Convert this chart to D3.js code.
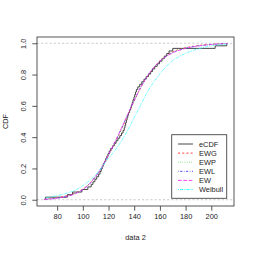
<!DOCTYPE html>
<html>
<head>
<meta charset="utf-8">
<script src="https://cdn.jsdelivr.net/npm/d3@7"></script>
<style>
  body { margin: 0; background: #fff; }
  svg { display: block; font-family: "Liberation Sans", Arial, sans-serif; }
</style>
</head>
<body>
<div id="chart"></div>
<script>
// sorted sample "data 2"
var data2 = [71, 88, 92, 99.3, 103.9, 106.5, 107.9, 109.4, 110.8, 112.3,
  113.4, 114.3, 115.1, 115.9, 116.8, 117.8, 118.7, 119.6, 120.5, 121.7,
  123.1, 124.5, 125.9, 127.3, 128.8, 130.1, 131.3, 132.2, 132.8, 133.3,
  133.9, 134.4, 135.0, 135.6, 136.4, 137.2, 137.8, 138.5, 139.1, 139.8,
  140.4, 141.0, 141.7, 142.8, 144.3, 145.9, 147.6, 149.3, 151.1, 152.8,
  154.3, 156.0, 157.9, 159.7, 161.6, 163.4, 165.3, 167.1, 170, 203, 212];

// x grid where the fitted CDFs were read
var gridX = [70, 75, 80, 85, 90, 95, 100, 105, 110, 115, 120, 125, 130, 135, 140,
  145, 150, 155, 160, 165, 170, 175, 180, 185, 190, 195, 200, 205, 210, 213];

var ewg = [0.004, 0.008, 0.013, 0.021, 0.031, 0.046, 0.068, 0.102, 0.15, 0.21,
  0.285, 0.365, 0.45, 0.54, 0.63, 0.715, 0.785, 0.842, 0.888, 0.92,
  0.945, 0.961, 0.972, 0.98, 0.986, 0.99, 0.993, 0.996, 0.998, 0.999];
var ewp = [0.003, 0.007, 0.012, 0.02, 0.03, 0.045, 0.067, 0.1, 0.148, 0.208,
  0.283, 0.364, 0.45, 0.54, 0.63, 0.714, 0.785, 0.842, 0.887, 0.919,
  0.943, 0.959, 0.97, 0.978, 0.985, 0.989, 0.992, 0.995, 0.997, 0.998];
var ewl = [0.002, 0.005, 0.01, 0.017, 0.027, 0.042, 0.065, 0.099, 0.148, 0.21,
  0.287, 0.368, 0.455, 0.545, 0.635, 0.718, 0.787, 0.843, 0.886, 0.917,
  0.94, 0.956, 0.968, 0.977, 0.983, 0.988, 0.992, 0.995, 0.997, 0.998];
var ew = [0.002, 0.005, 0.01, 0.017, 0.027, 0.042, 0.065, 0.1, 0.149, 0.211,
  0.288, 0.37, 0.457, 0.547, 0.636, 0.718, 0.787, 0.842, 0.885, 0.916,
  0.939, 0.955, 0.967, 0.976, 0.983, 0.988, 0.992, 0.995, 0.997, 0.998];
var weibull = [0.01, 0.018, 0.027, 0.036, 0.048, 0.065, 0.09, 0.12, 0.16, 0.21,
  0.265, 0.315, 0.375, 0.445, 0.525, 0.605, 0.685, 0.75, 0.805, 0.852,
  0.89, 0.915, 0.935, 0.952, 0.965, 0.975, 0.983, 0.989, 0.994, 0.996];

var xTicks = [80, 100, 120, 140, 160, 180, 200];
var yTicks = [0, 0.2, 0.4, 0.6, 0.8, 1];
var legendNames = ["eCDF", "EWG", "EWP", "EWL", "EW", "Weibull"];

var colors = ["#333333", "#ff3030", "#30d030", "#3030ff", "#ff30ff", "#30ffff"];
var dashes = [null, "2.1,2.1", "0.6,1.6", "0.6,1.6,2.1,1.6", "3.7,1.6", "1,1,3.2,1"];

var W = 253, H = 253;
var plotL = 37, plotR = 234, plotT = 37, plotB = 206;

var svg = d3.select("#chart").append("svg")
  .attr("width", W).attr("height", H);

// R style 4% extension of data range
var x = d3.scaleLinear().domain([64.32, 217.68]).range([plotL, plotR]);
var y = d3.scaleLinear().domain([-0.04, 1.04]).range([plotB, plotT]);

// grey dashed lines at 0 and 1
svg.selectAll("line.hl").data([0, 1]).enter().append("line")
  .attr("x1", plotL).attr("x2", plotR)
  .attr("y1", function (d) { return y(d); })
  .attr("y2", function (d) { return y(d); })
  .attr("stroke", "#b3b3b3").attr("stroke-width", 0.7)
  .attr("stroke-dasharray", "2.1,2.1");

// eCDF
var n = data2.length;
var steps = [{ v: data2[0], f: 0 }];
data2.forEach(function (d, i) { steps.push({ v: d, f: (i + 1) / n }); });
svg.append("path")
  .datum(steps)
  .attr("fill", "none")
  .attr("stroke", colors[0]).attr("stroke-width", 0.9)
  .attr("d", d3.line()
    .x(function (d) { return x(d.v); })
    .y(function (d) { return y(d.f); })
    .curve(d3.curveStepAfter));

// fitted curves
var fits = [ewg, ewp, ewl, ew, weibull];
var fitLine = d3.line()
  .x(function (d, i) { return x(gridX[i]); })
  .y(function (d) { return y(d); })
  .curve(d3.curveMonotoneX);
fits.forEach(function (f, k) {
  svg.append("path")
    .datum(f)
    .attr("fill", "none")
    .attr("stroke", colors[k + 1])
    .attr("stroke-width", 0.7)
    .attr("stroke-dasharray", dashes[k + 1])
    .attr("d", fitLine);
});

// box
svg.append("rect")
  .attr("x", plotL).attr("y", plotT)
  .attr("width", plotR - plotL).attr("height", plotB - plotT)
  .attr("fill", "none").attr("stroke", "#444").attr("stroke-width", 0.9);

// axes
var xAxis = svg.append("g")
  .attr("transform", "translate(0," + plotB + ")")
  .call(d3.axisBottom(x).tickValues(xTicks).tickSize(4.7).tickPadding(3.5));
var yAxis = svg.append("g")
  .attr("transform", "translate(" + plotL + ",0)")
  .call(d3.axisLeft(y).tickValues(yTicks).tickSize(4.7)
    .tickFormat(d3.format(".1f")));
[xAxis, yAxis].forEach(function (g) {
  g.select(".domain").remove();
  g.selectAll(".tick line").attr("stroke", "#444").attr("stroke-width", 0.9);
  g.selectAll("text").attr("fill", "#222")
    .style("font-family", "Liberation Sans, Arial, sans-serif")
    .style("font-size", "7.4px");
});
// y labels are rotated, as in R
yAxis.selectAll(".tick text")
  .attr("x", null)
  .attr("text-anchor", "middle")
  .attr("transform", "translate(-13.5,0) rotate(-90)")
  .attr("dy", "0.35em");

svg.append("text")
  .attr("x", (plotL + plotR) / 2).attr("y", 240)
  .attr("text-anchor", "middle")
  .attr("font-size", "7.4px").attr("fill", "#222")
  .text("data 2");
svg.append("text")
  .attr("transform", "translate(8," + ((plotT + plotB) / 2) + ") rotate(-90)")
  .attr("text-anchor", "middle")
  .attr("font-size", "7.4px").attr("fill", "#222")
  .text("CDF");

// legend
var lg = svg.append("g");
lg.append("rect")
  .attr("x", 171.7).attr("y", 134.7).attr("width", 55).attr("height", 63.6)
  .attr("fill", "#fff").attr("stroke", "#444").attr("stroke-width", 0.9);
var rows = lg.selectAll("g.row").data(legendNames).enter().append("g")
  .attr("transform", function (d, i) { return "translate(0," + (144 + i * 9.1) + ")"; });
rows.append("line")
  .attr("x1", 178).attr("x2", 193)
  .attr("stroke", function (d, i) { return colors[i]; })
  .attr("stroke-width", 0.9)
  .attr("stroke-dasharray", function (d, i) { return dashes[i]; });
rows.append("text")
  .attr("x", 199).attr("dy", "0.35em")
  .attr("font-size", "7.4px").attr("fill", "#222")
  .text(function (d) { return d; });
</script>
</body>
</html>
